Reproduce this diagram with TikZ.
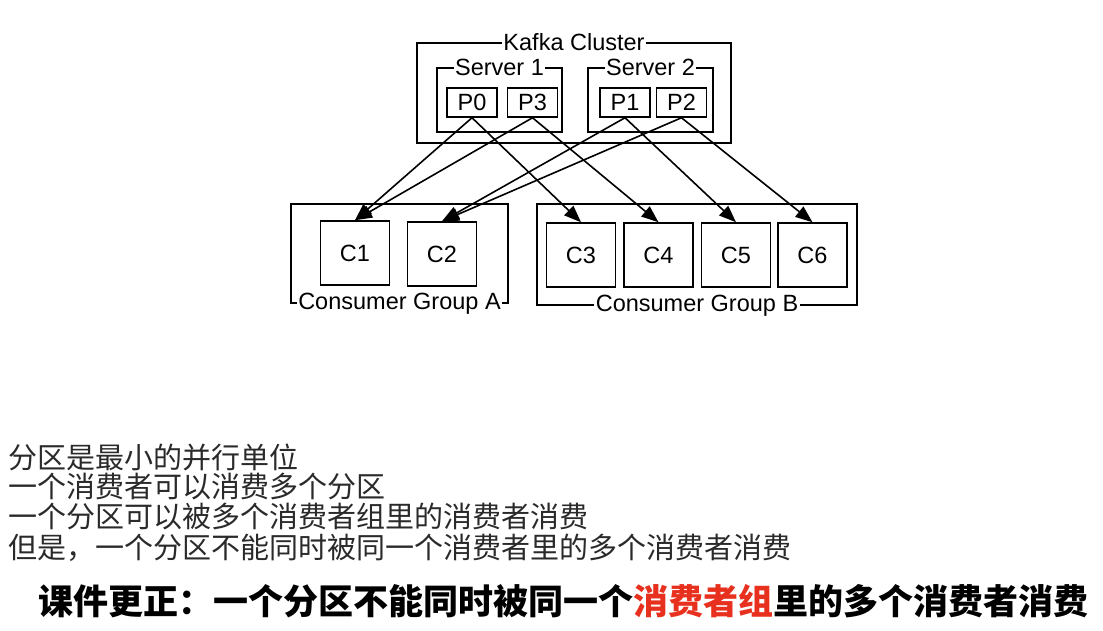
\documentclass[tikz,border=0pt]{standalone}
\usepackage{fontspec}
\setmainfont{Liberation Sans}
\newfontfamily\cjk{Noto Sans CJK SC}
\usetikzlibrary{arrows.meta}
\definecolor{hired}{HTML}{E8301E}
\definecolor{txtgray}{HTML}{2A2A2A}
\begin{document}
\begin{tikzpicture}[x=1pt,y=-1pt,
  lbl/.style={font=\fontsize{23.5}{26}\selectfont},
  grp/.style={draw, line width=1.5pt, inner sep=0pt},
  pbox/.style={draw, line width=1.5pt, inner sep=0pt, minimum width=50pt, minimum height=29pt, lbl},
  cbox/.style={draw, line width=1.5pt, inner sep=0pt, minimum width=69pt, minimum height=64pt, lbl},
  ttl/.style={fill=white, inner sep=1.5pt, lbl},
  arr/.style={line width=1.6pt, -{Triangle[length=17pt,width=13pt]}},
  cjkline/.style={anchor=west, inner sep=0pt, text=txtgray, font=\cjk\fontsize{29}{32}\selectfont},
  boldline/.style={anchor=west, inner sep=0pt, font=\cjk\bfseries\fontsize{35}{40}\selectfont}
]
\useasboundingbox (0,0) rectangle (1103,631);
\fill[white] (0,0) rectangle (1103,631);

% Kafka cluster
\node[grp, minimum width=314pt, minimum height=100pt] (kc) at (574,93) {};
\node[ttl] (kct) at (kc.north) {Kafka Cluster};
\node[grp, minimum width=125pt, minimum height=64pt] (s1) at (499.5,100) {};
\node[ttl] (s1t) at (s1.north) {Server 1};
\node[grp, minimum width=125pt, minimum height=64pt] (s2) at (650.5,100) {};
\node[ttl] (s2t) at (s2.north) {Server 2};
\node[pbox] (p0) at (472,102.5) {P0};
\node[pbox] (p3) at (532.5,102.5) {P3};
\node[pbox] (p1) at (625,102.5) {P1};
\node[pbox] (p2) at (681.5,102.5) {P2};

% Consumer groups
\node[grp, minimum width=217pt, minimum height=99pt] (ga) at (399.5,253.5) {};
\node[ttl] (gat) at (ga.south) {Consumer Group A};
\node[grp, minimum width=320pt, minimum height=101pt] (gb) at (697,254.5) {};
\node[ttl] (gbt) at (gb.south) {Consumer Group B};
\node[cbox] (c1) at (355,253) {C1};
\node[cbox] (c2) at (442,254) {C2};
\node[cbox] (c3) at (581,255) {C3};
\node[cbox] (c4) at (658.5,255) {C4};
\node[cbox] (c5) at (736,255) {C5};
\node[cbox] (c6) at (812.5,255) {C6};

% arrows
\draw[arr] (p0.south) -- (c1.north);
\draw[arr] (p3.south) -- (c1.north);
\draw[arr] (p0.south) -- (c3.north);
\draw[arr] (p3.south) -- (c4.north);
\draw[arr] (p1.south) -- (c2.north);
\draw[arr] (p2.south) -- (c2.north);
\draw[arr] (p1.south) -- (c5.north);
\draw[arr] (p2.south) -- (c6.north);

% notes
\node[cjkline] (n1) at (8,457) {分区是最小的并行单位};
\node[cjkline] (n2) at (8,487) {一个消费者可以消费多个分区};
\node[cjkline] (n3) at (8,517) {一个分区可以被多个消费者组里的消费者消费};
\node[cjkline] (n4) at (8,548) {但是，一个分区不能同时被同一个消费者里的多个消费者消费};

\node[boldline] (corr) at (38,601) {课件更正：一个分区不能同时被同一个\textcolor{hired}{消费者组}里的多个消费者消费};
\end{tikzpicture}
\end{document}
